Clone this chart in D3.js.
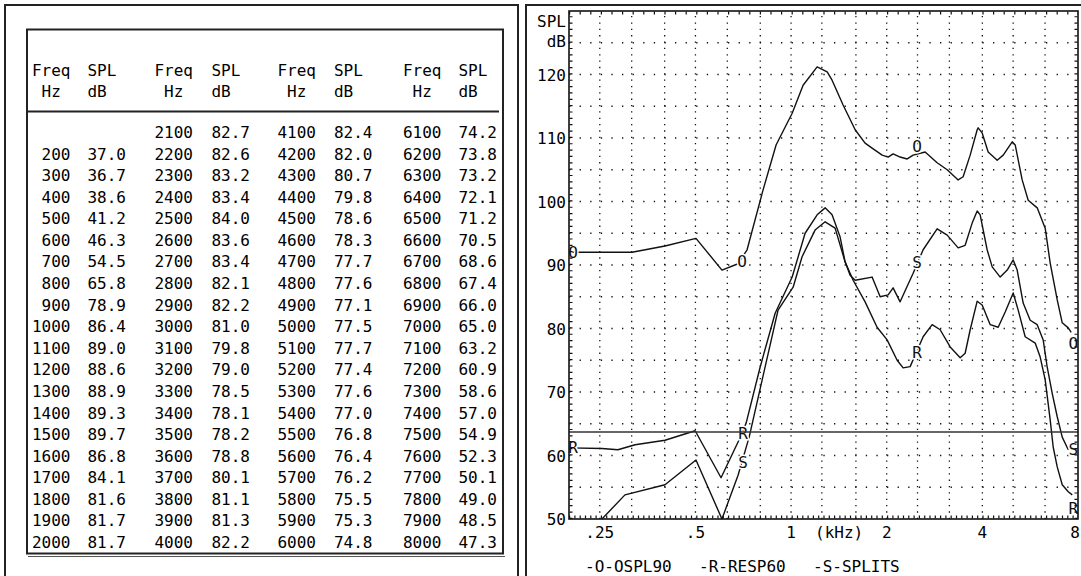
<!DOCTYPE html>
<html>
<head>
<meta charset="utf-8">
<script src="https://cdn.jsdelivr.net/npm/d3@7"></script>
<style>
  body { margin: 0; background: #fff; }
  svg { display: block; font-family: "DejaVu Sans Mono", monospace; font-size: 16px; }
</style>
</head>
<body>
<svg id="chart" width="1081" height="576"></svg>
<script>
// --- TABLE DATA ---
const tableFreq = [
  200, 300, 400, 500, 600, 700, 800, 900, 1000, 1100, 1200, 1300, 1400, 1500, 1600, 1700, 1800, 1900, 2000,
  2100, 2200, 2300, 2400, 2500, 2600, 2700, 2800, 2900, 3000, 3100, 3200, 3300, 3400, 3500, 3600, 3700, 3800, 3900, 4000,
  4100, 4200, 4300, 4400, 4500, 4600, 4700, 4800, 4900, 5000, 5100, 5200, 5300, 5400, 5500, 5600, 5700, 5800, 5900, 6000,
  6100, 6200, 6300, 6400, 6500, 6600, 6700, 6800, 6900, 7000, 7100, 7200, 7300, 7400, 7500, 7600, 7700, 7800, 7900, 8000
];
const tableSpl = [
  37.0, 36.7, 38.6, 41.2, 46.3, 54.5, 65.8, 78.9, 86.4, 89.0, 88.6, 88.9, 89.3, 89.7, 86.8, 84.1, 81.6, 81.7, 81.7,
  82.7, 82.6, 83.2, 83.4, 84.0, 83.6, 83.4, 82.1, 82.2, 81.0, 79.8, 79.0, 78.5, 78.1, 78.2, 78.8, 80.1, 81.1, 81.3, 82.2,
  82.4, 82.0, 80.7, 79.8, 78.6, 78.3, 77.7, 77.6, 77.1, 77.5, 77.7, 77.4, 77.6, 77.0, 76.8, 76.4, 76.2, 75.5, 75.3, 74.8,
  74.2, 73.8, 73.2, 72.1, 71.2, 70.5, 68.6, 67.4, 66.0, 65.0, 63.2, 60.9, 58.6, 57.0, 54.9, 52.3, 50.1, 49.0, 48.5, 47.3
];
const tableHeads = ["Freq", "Hz", "SPL", "dB"];

// --- CURVES [kHz, dB] ---
const ospl90 = [
  [0.20, 92.0], [0.247, 92.0], [0.316, 92.0], [0.401, 93.0], [0.502, 94.2], [0.606, 89.2], [0.681, 90.2],
  [0.727, 92.4], [0.816, 101.8], [0.897, 108.9], [1.008, 113.9], [1.091, 118.3], [1.208, 121.2], [1.299, 120.4],
  [1.346, 119.1], [1.458, 115.2], [1.591, 111.3], [1.710, 109.2], [1.799, 108.4], [1.935, 107.3], [2.021, 107.0],
  [2.095, 107.5], [2.204, 107.0], [2.320, 106.7], [2.422, 107.3], [2.642, 107.8], [2.882, 106.1], [3.100, 105.0],
  [3.357, 103.4], [3.480, 103.9], [3.662, 107.3], [3.853, 111.3], [3.880, 111.6], [3.994, 110.8], [4.172, 107.8],
  [4.454, 106.5], [4.652, 107.3], [4.966, 109.4], [5.075, 108.9], [5.338, 103.4], [5.576, 100.2], [5.952, 99.0],
  [6.307, 95.8], [6.540, 90.3], [6.882, 84.5], [7.136, 80.9], [7.454, 80.1], [7.616, 79.4]
];
const resp60 = [
  [0.20, 61.2], [0.254, 61.1], [0.285, 60.9], [0.323, 61.7], [0.401, 62.4], [0.499, 63.9], [0.602, 56.5],
  [0.691, 62.8], [0.722, 65.1], [0.799, 73.9], [0.891, 82.4], [1.008, 88.1], [1.107, 95.0], [1.208, 97.9],
  [1.280, 99.0], [1.346, 97.9], [1.427, 94.4], [1.479, 90.5], [1.568, 87.6], [1.710, 84.2], [1.865, 80.2],
  [2.006, 78.2], [2.157, 75.0], [2.253, 73.8], [2.370, 74.0], [2.604, 78.7], [2.780, 80.6], [2.946, 79.8],
  [3.168, 77.1], [3.406, 75.4], [3.531, 76.1], [3.662, 79.8], [3.853, 84.3], [3.994, 83.7], [4.234, 80.6],
  [4.486, 80.2], [4.720, 82.6], [5.002, 85.6], [5.186, 82.9], [5.456, 78.7], [5.866, 77.7], [6.083, 75.5],
  [6.307, 71.9], [6.540, 65.6], [6.685, 61.3], [6.882, 58.2], [7.136, 55.4], [7.454, 54.3], [7.674, 53.8]
];
const splits = [
  [0.254, 50.0], [0.300, 53.8], [0.401, 55.4], [0.502, 59.3], [0.606, 50.0], [0.681, 56.9], [0.738, 62.9],
  [0.811, 71.9], [0.891, 80.9], [0.910, 82.9], [1.015, 86.5], [1.083, 91.3], [1.190, 95.5], [1.280, 96.8],
  [1.376, 95.8], [1.479, 90.5], [1.534, 88.4], [1.591, 87.6], [1.799, 88.1], [1.907, 85.0], [2.021, 85.3],
  [2.095, 86.4], [2.204, 84.2], [2.422, 88.7], [2.604, 92.4], [2.882, 95.7], [3.100, 94.7], [3.357, 92.7],
  [3.531, 93.1], [3.715, 96.6], [3.853, 98.5], [3.937, 97.9], [4.141, 92.4], [4.296, 89.7], [4.552, 88.1],
  [4.790, 89.2], [5.002, 90.8], [5.148, 89.2], [5.377, 84.0], [5.657, 81.3], [5.952, 80.6], [6.216, 78.2],
  [6.400, 73.9], [6.636, 69.8], [6.882, 66.1], [7.136, 62.9], [7.454, 60.9]
];
// letters sitting on the curves
const curveLabels = [
  ["O", 0.206, 92.0], ["O", 0.701, 90.6], ["O", 2.493, 108.7], ["O", 7.728, 77.7],
  ["R", 0.206, 61.3], ["R", 0.706, 63.5], ["R", 2.493, 76.3], ["R", 7.728, 51.7],
  ["S", 0.706, 59.0], ["S", 2.493, 90.5], ["S", 7.728, 61.0]
];
const refLevel = 63.7;

// --- AXES ---
const yTicks = [50, 60, 70, 80, 90, 100, 110, 120];
const yGrid = [55, 60, 65, 70, 75, 80, 85, 90, 95, 100, 105, 110, 115, 120, 125];
const xGrid = [0.25, 0.315, 0.4, 0.5, 0.63, 0.8, 1, 1.25, 1.6, 2, 2.5, 3.15, 4, 5, 6.3];
const xTickVals = [0.25, 0.5, 1, 2, 4, 8];
const xTickText = [".25", ".5", "1", "2", "4", "8"];
const legendItems = ["-O-OSPL90", "-R-RESP60", "-S-SPLITS"];

const svg = d3.select("#chart");
const ink = "#111";

// --- FRAMES ---
svg.append("rect").attr("x", 5).attr("y", 5).attr("width", 513).attr("height", 600)
  .attr("fill", "none").attr("stroke", "#222").attr("stroke-width", 2);
svg.append("rect").attr("x", 526).attr("y", 5).attr("width", 600).attr("height", 600)
  .attr("fill", "none").attr("stroke", "#222").attr("stroke-width", 2);

// --- TABLE ---
const tb = svg.append("g");
tb.append("rect").attr("x", 27).attr("y", 29.5).attr("width", 476).attr("height", 524)
  .attr("fill", "none").attr("stroke", "#222").attr("stroke-width", 2);
tb.append("line").attr("x1", 28).attr("x2", 505).attr("y1", 556.5).attr("y2", 556.5)
  .attr("stroke", "#555").attr("stroke-width", 1.2);
tb.append("line").attr("x1", 27).attr("x2", 499).attr("y1", 111.5).attr("y2", 111.5)
  .attr("stroke", "#222").attr("stroke-width", 2);

const charW = 9.63;
const freqRight = [70.5, 193, 316, 441.5];
const splRight = [126, 250, 372.5, 497];
const rowY = d3.scaleLinear().domain([0, 19]).range([138, 548]);

freqRight.forEach((fx, c) => {
  tb.append("text").attr("x", fx).attr("y", 76).attr("text-anchor", "end").text(tableHeads[0]);
  tb.append("text").attr("x", fx - charW).attr("y", 96.5).attr("text-anchor", "end").text(tableHeads[1]);
  tb.append("text").attr("x", splRight[c] - 4 * charW).attr("y", 76).text(tableHeads[2]);
  tb.append("text").attr("x", splRight[c] - 4 * charW).attr("y", 96.5).text(tableHeads[3]);
});

const cells = tableFreq.map((f, i) => ({ f, v: tableSpl[i], g: i + 1 }));
tb.selectAll("text.fq").data(cells).enter().append("text")
  .attr("class", "fq")
  .attr("x", d => freqRight[Math.floor(d.g / 20)])
  .attr("y", d => rowY(d.g % 20))
  .attr("text-anchor", "end")
  .text(d => d.f);
tb.selectAll("text.sp").data(cells).enter().append("text")
  .attr("class", "sp")
  .attr("x", d => splRight[Math.floor(d.g / 20)])
  .attr("y", d => rowY(d.g % 20))
  .attr("text-anchor", "end")
  .text(d => d.v.toFixed(1));

// --- CHART ---
const x = d3.scaleLog().domain([0.2, 8]).range([569, 1078]);
const y = d3.scaleLinear().domain([50, 130]).range([519, 11]);
const [x0, x1] = x.range();
const [y0, y1] = y.range();

const g = svg.append("g");

// dotted grid
g.selectAll("path.vg").data(xGrid).enter().append("path")
  .attr("d", f => `M${x(f)},${y0}V${y1}`)
  .attr("stroke", ink).attr("stroke-width", 1.3)
  .attr("stroke-dasharray", "1.3,5.05");
g.selectAll("path.hg").data(yGrid).enter().append("path")
  .attr("d", v => `M${x0},${y(v)}H${x1}`)
  .attr("stroke", ink).attr("stroke-width", 1.3)
  .attr("stroke-dasharray", "1.3,9.3");

// curves
svg.append("defs").append("clipPath").attr("id", "plot")
  .append("rect").attr("x", x0).attr("y", y1).attr("width", x1 - x0).attr("height", y0 - y1);

const line = d3.line().x(d => x(d[0])).y(d => y(d[1]));
g.append("g").attr("clip-path", "url(#plot)")
  .selectAll("path").data([ospl90, resp60, splits]).enter().append("path")
  .attr("d", line)
  .attr("fill", "none").attr("stroke", ink).attr("stroke-width", 1.4)
  .attr("stroke-linejoin", "round");

g.selectAll("text.lab").data(curveLabels).enter().append("text")
  .attr("x", d => x(d[1])).attr("y", d => y(d[2]))
  .attr("dy", "0.36em").attr("text-anchor", "middle")
  .attr("stroke", "#fff").attr("stroke-width", 3).attr("paint-order", "stroke")
  .attr("fill", ink)
  .text(d => d[0]);

// reference level
g.append("line").attr("x1", x0).attr("x2", x1).attr("y1", y(refLevel)).attr("y2", y(refLevel))
  .attr("stroke", "#333").attr("stroke-width", 1.6);

// frame and small ticks
g.append("rect").attr("x", x0).attr("y", y1).attr("width", x1 - x0).attr("height", y0 - y1)
  .attr("fill", "none").attr("stroke", ink).attr("stroke-width", 1.6);
g.append("path").attr("d", `M${x0 + 2},${y0}V${y1}`).attr("stroke", ink)
  .attr("stroke-width", 3).attr("stroke-dasharray", "1.2,5.15");
g.append("path").attr("d", `M${x1 - 2},${y0}V${y1}`).attr("stroke", ink)
  .attr("stroke-width", 3).attr("stroke-dasharray", "1.2,5.15");
g.append("path").attr("d", `M${x0},${y0 - 2}H${x1}`).attr("stroke", ink)
  .attr("stroke-width", 3).attr("stroke-dasharray", "1.2,4.1");
g.append("path").attr("d", `M${x0},${y1 + 2}H${x1}`).attr("stroke", ink)
  .attr("stroke-width", 3).attr("stroke-dasharray", "1.2,9.4");

// axis labels
g.selectAll("text.yt").data(yTicks).enter().append("text")
  .attr("x", 566).attr("y", v => y(v) + 6).attr("text-anchor", "end").text(v => v);
g.append("text").attr("x", 566).attr("y", 27).attr("text-anchor", "end").text("SPL");
g.append("text").attr("x", 566).attr("y", 47).attr("text-anchor", "end").text("dB");

// last label kept inside the window
g.selectAll("text.xt").data(xTickVals).enter().append("text")
  .attr("x", f => Math.min(x(f), 1080 - charW / 2)).attr("y", 538).attr("text-anchor", "middle")
  .text((f, i) => xTickText[i]);
g.append("text").attr("x", 815).attr("y", 538).text("(kHz)");

const legendX = [585, 699, 813];
g.selectAll("text.lg").data(legendItems).enter().append("text")
  .attr("x", (d, i) => legendX[i]).attr("y", 572).text(d => d);
</script>
</body>
</html>
